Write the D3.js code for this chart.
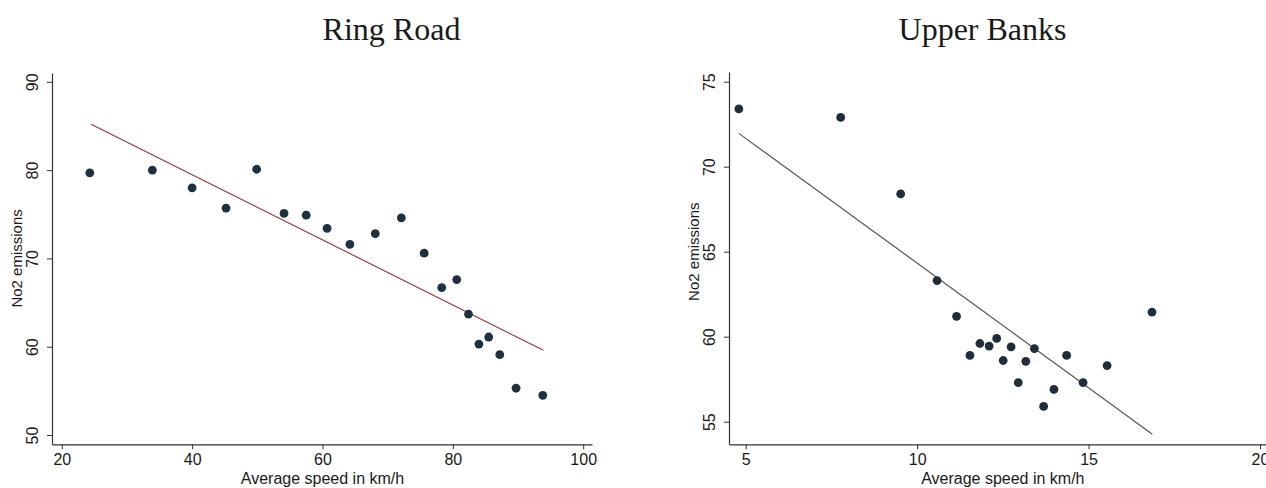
<!DOCTYPE html>
<html>
<head>
<meta charset="utf-8">
<script src="https://cdn.jsdelivr.net/npm/d3@7"></script>
<style>
  html, body { margin: 0; padding: 0; background: #fff; }
  svg { display: block; }
</style>
</head>
<body>
<svg id="chart" width="1266" height="488"></svg>
<script>
// ---------------- DATA ----------------
const panelTitles = ["Ring Road", "Upper Banks"];
const xAxisTitle = "Average speed in km/h";
const yAxisTitle = "No2 emissions";

// Ring Road: average speed (km/h) and NO2 emissions
const ringSpeed = [24.3, 33.9, 40.0, 45.2, 49.9, 54.1, 57.5, 60.7, 64.2, 68.1, 72.1,
                   75.6, 78.3, 80.6, 82.4, 84.0, 85.5, 87.2, 89.7, 93.8];
const ringNo2   = [79.7, 80.0, 78.0, 75.7, 80.1, 75.1, 74.9, 73.4, 71.6, 72.8, 74.6,
                   70.6, 66.7, 67.6, 63.7, 60.3, 61.1, 59.1, 55.3, 54.5];
const ringFitX  = [24.5, 93.9];
const ringFitY  = [85.2, 59.6];
const ringXTicks = [20, 40, 60, 80, 100];
const ringYTicks = [50, 60, 70, 80, 90];

// Upper Banks: average speed (km/h) and NO2 emissions
const upperSpeed = [4.80, 7.77, 9.52, 10.58, 11.15, 11.54, 11.83, 12.10, 12.32, 12.51,
                    12.74, 12.95, 13.17, 13.42, 13.69, 13.99, 14.36, 14.84, 15.54, 16.85];
const upperNo2   = [73.4, 72.9, 68.4, 63.3, 61.2, 58.9, 59.6, 59.45, 59.9, 58.6,
                    59.4, 57.3, 58.55, 59.3, 55.9, 56.9, 58.9, 57.3, 58.3, 61.45];
const upperFitX  = [4.80, 16.86];
const upperFitY  = [71.96, 54.26];
const upperXTicks = [5, 10, 15, 20];
const upperYTicks = [55, 60, 65, 70, 75];

// ---------------- LAYOUT ----------------
const svg = d3.select("#chart");
const axisColor = "#333";
const sansFont = "'Liberation Sans', Arial, Helvetica, sans-serif";
const serifFont = "'Liberation Serif', 'Times New Roman', serif";

const panels = [
  {
    title: panelTitles[0], titleX: 391.5,
    xs: ringSpeed, ys: ringNo2, fitX: ringFitX, fitY: ringFitY,
    xTicks: ringXTicks, yTicks: ringYTicks,
    xDomain: [18.5, 101.35], xRange: [52, 592],
    yDomain: [48.95, 91.0], yRange: [444.3, 73],
    fitColor: "#9a3b3f", dotColor: "#1f3140"
  },
  {
    title: panelTitles[1], titleX: 982.5,
    xs: upperSpeed, ys: upperNo2, fitX: upperFitX, fitY: upperFitY,
    xTicks: upperXTicks, yTicks: upperYTicks,
    xDomain: [4.513, 20.175], xRange: [729, 1266],
    yDomain: [53.67, 75.57], yRange: [444.3, 72],
    fitColor: "#555555", dotColor: "#222d3c"
  }
];

panels.forEach(p => {
  const x = d3.scaleLinear().domain(p.xDomain).range(p.xRange);
  const y = d3.scaleLinear().domain(p.yDomain).range(p.yRange);
  const g = svg.append("g");

  // title
  g.append("text")
    .attr("x", p.titleX).attr("y", 40)
    .attr("text-anchor", "middle")
    .style("font-family", serifFont)
    .style("font-size", "32px")
    .style("fill", "#1a1a1a")
    .text(p.title);

  // x axis
  const xAxis = d3.axisBottom(x).tickValues(p.xTicks).tickSize(5).tickSizeOuter(0).tickPadding(4);
  const gx = g.append("g").attr("transform", `translate(0,${p.yRange[0]})`).call(xAxis);
  gx.select(".domain").attr("stroke", axisColor).attr("stroke-width", 1.2);
  gx.selectAll(".tick line").attr("stroke", axisColor);
  gx.selectAll(".tick text")
    .style("font-family", sansFont).style("font-size", "16px").style("fill", "#1a1a1a");

  // y axis
  const yAxis = d3.axisLeft(y).tickValues(p.yTicks).tickSize(5).tickSizeOuter(0);
  const gy = g.append("g").attr("transform", `translate(${p.xRange[0]},0)`).call(yAxis);
  gy.select(".domain").attr("stroke", axisColor).attr("stroke-width", 1.2);
  gy.selectAll(".tick line").attr("stroke", axisColor);
  gy.selectAll(".tick text")
    .attr("x", null).attr("dy", null)
    .attr("transform", "translate(-20,0) rotate(-90)")
    .attr("text-anchor", "middle")
    .attr("dominant-baseline", "central")
    .style("font-family", sansFont).style("font-size", "16px").style("fill", "#1a1a1a");

  // axis titles
  g.append("text")
    .attr("x", (x(p.xTicks[0]) + x(p.xTicks[p.xTicks.length - 1])) / 2)
    .attr("y", 484)
    .attr("text-anchor", "middle")
    .style("font-family", sansFont).style("font-size", "16px").style("fill", "#1a1a1a")
    .text(xAxisTitle);

  g.append("text")
    .attr("transform", `translate(${p.xRange[0] - 36},${(y(p.yTicks[0]) + y(p.yTicks[p.yTicks.length - 1])) / 2}) rotate(-90)`)
    .attr("text-anchor", "middle")
    .attr("dominant-baseline", "central")
    .style("font-family", sansFont).style("font-size", "15px").style("fill", "#1a1a1a")
    .text(yAxisTitle);

  // fit line
  g.append("line")
    .attr("x1", x(p.fitX[0])).attr("y1", y(p.fitY[0]))
    .attr("x2", x(p.fitX[1])).attr("y2", y(p.fitY[1]))
    .attr("stroke", p.fitColor).attr("stroke-width", 1.2);

  // points
  g.selectAll("circle.pt")
    .data(p.xs.map((v, i) => [v, p.ys[i]]))
    .enter().append("circle")
    .attr("class", "pt")
    .attr("cx", d => x(d[0])).attr("cy", d => y(d[1]))
    .attr("r", 4.4)
    .attr("fill", p.dotColor);
});
</script>
</body>
</html>
